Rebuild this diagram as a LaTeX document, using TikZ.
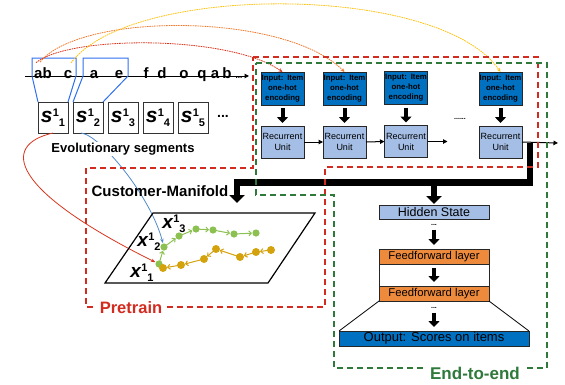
\documentclass[tikz,border=0pt]{standalone}
\usepackage{fontspec}
\setmainfont{Liberation Sans}
\usetikzlibrary{arrows.meta,calc}

\definecolor{inblue}{HTML}{0070C0}
\definecolor{rublue}{HTML}{A4BEE6}
\definecolor{ffor}{HTML}{EE8A3C}
\definecolor{segblue}{HTML}{2E6FF0}
\definecolor{lnblue}{HTML}{4F8AC9}
\definecolor{prered}{HTML}{D22B1F}
\definecolor{eegreen}{HTML}{2F7A3B}
\definecolor{curvered}{HTML}{D8361E}
\definecolor{curveor}{HTML}{F07A2E}
\definecolor{curveyl}{HTML}{FFC20E}
\definecolor{trgreen}{HTML}{8CC152}
\definecolor{tryel}{HTML}{D4A20C}

\newcommand{\fsz}[2]{\fontsize{#1}{#2}\selectfont}
% symbol with a superscript followed by a subscript
\newcommand{\seglab}[4]{{\fsz{#4}{#4}\bfseries\itshape #1}\kern0.3pt\raisebox{6pt}{\fsz{11}{11}\bfseries #2}\raisebox{-4pt}{\fsz{11}{11}\bfseries #3}}

\begin{document}
\begin{tikzpicture}[x=1pt,y=-1pt,
  every node/.style={inner sep=0pt, outer sep=0pt},
  seq/.style={font=\fsz{15}{15}\bfseries, anchor=base},
  segbox/.style={draw=black!80, line width=1pt, minimum width=30pt, minimum height=31pt},
  inbox/.style={draw=black!85, line width=0.8pt, fill=inblue, minimum width=43pt, text width=43pt,
    minimum height=33pt, align=center, font=\fsz{7.8}{10}\bfseries},
  rubox/.style={draw=black!85, line width=0.8pt, fill=rublue, minimum width=43pt, text width=43pt,
    minimum height=32pt, align=center, font=\fsz{9}{11}},
  hsbox/.style={draw=black!85, line width=0.8pt, fill=rublue, minimum width=110pt, minimum height=14pt, font=\fsz{12.5}{14}},
  ffbox/.style={draw=black!85, line width=0.8pt, fill=ffor, minimum width=110pt, minimum height=15pt, font=\fsz{11.3}{13}},
  outbox/.style={draw=black!85, line width=0.8pt, fill=inblue, minimum width=190pt, minimum height=15pt, font=\fsz{13}{15}},
  smalldots/.style={font=\fsz{7}{7}\bfseries},
  flow/.style={line width=1pt, -{Triangle[length=4.5pt,width=4.5pt]}},
  blockarrow/.style={line width=4pt, -{Triangle[length=6pt,width=11pt]}},
  bigbar/.style={line width=6.5pt, line join=miter, -{Triangle[length=8pt,width=15pt]}},
  topcurve/.style={line width=0.8pt, dash pattern=on 1.6pt off 0.8pt, -{Stealth[length=4pt,width=3.5pt]}},
  lowcurve/.style={line width=0.8pt, shorten >=4pt, -{Stealth[length=4.5pt,width=3.5pt]}},
  traj/.style={line width=1pt, shorten >=4pt, shorten <=3pt, -{Straight Barb[length=2.5pt,width=5pt]}},
  pbox/.style={draw=prered, line width=2pt, dash pattern=on 6pt off 4pt},
  ebox/.style={draw=eegreen, line width=2pt, dash pattern=on 6pt off 4pt}
]
\useasboundingbox (0,0) rectangle (565,384);

% ---- item sequence ----
\coordinate (seqL) at (25,76);
\coordinate (seqR) at (249,76);
\draw[flow] (seqL) -- (seqR);
\node[seq] (ab) at (43,78) {ab};
\node[seq] (c1) at (68,78) {c};
\node[seq] (a1) at (94,78) {a};
\node[seq] (e1) at (119,78) {e};
\node[seq] (f1) at (146,78) {f};
\node[seq] (d1) at (162,78) {d};
\node[seq] (o1) at (184,78) {o};
\node[seq] (q1) at (202,78) {q};
\node[seq] (a2) at (215,78) {a};
\node[seq] (b2) at (227,78) {b};
\node[seq, font=\fsz{8}{8}\bfseries] (sd) at (239,78) {...};

% ---- evolutionary segments ----
\node[segbox] (s1) at (53,117.5) {\seglab{s}{1}{1}{21}};
\node[segbox] (s2) at (88,117.5) {\seglab{s}{1}{2}{21}};
\node[segbox] (s3) at (123,117.5) {\seglab{s}{1}{3}{21}};
\node[segbox] (s4) at (158,117.5) {\seglab{s}{1}{4}{21}};
\node[segbox] (s5) at (193,117.5) {\seglab{s}{1}{5}{21}};
\node[font=\fsz{14}{14}\bfseries] (s6) at (223,116) {...};

\draw[segblue, line width=1pt] (s1.north west) -- (32,76) -- (32,58) -- (76,58) -- (76,76) -- (s1.north east);
\draw[segblue, line width=1pt] (s2.north west) -- (83,76) -- (83,58) -- (128,58) -- (128,76) -- (s2.north east);

% ---- recurrent encoder ----
\node[inbox] (in1) at (282.5,88.5) {Input: Item\\one-hot\\encoding};
\node[inbox] (in2) at (344.5,88.5) {Input: Item\\one-hot\\encoding};
\node[inbox] (in3) at (406,88) {Input: Item\\one-hot\\encoding};
\node[inbox] (in4) at (500.5,88.5) {Input: Item\\one-hot\\encoding};
\node[rubox] (ru1) at (282.5,142) {Recurrent\\Unit};
\node[rubox] (ru2) at (344.5,142) {Recurrent\\Unit};
\node[rubox] (ru3) at (406,141.5) {Recurrent\\Unit};
\node[rubox] (ru4) at (500.5,142) {Recurrent\\Unit};
\node[smalldots] (rd) at (460,119) {......};

\foreach \i in {1,2,3,4}{
  \draw[blockarrow] ($(in\i.south)+(0,3)$) -- ($(ru\i.north)+(0,-3)$);
}
\coordinate (r3out) at ($(ru3.east)+(20,0)$);
\coordinate (r4out) at (558,143);
\draw[flow] (ru1.east) -- (ru2.west);
\draw[flow] (ru2.east) -- (ru3.west);
\draw[flow] (ru3.east) -- (r3out);
\draw[flow] (ru4.east) -- (r4out);

% ---- sequence to input curves ----
\draw[topcurve, draw=curvered] ($(ab.north)+(-7,-4.5)$) .. controls (70,35) and (230,35) .. (in1.north);
\draw[topcurve, draw=curveor] ($(ab.north)+(-3,-5)$) .. controls (80,12) and (285,12) .. (in2.north);
\draw[topcurve, draw=curveyl] ($(c1.north)+(3,-7)$) .. controls (130,-17) and (440,-17) .. (in4.north);

% ---- customer manifold ----
\coordinate (g1) at (159,264); \coordinate (g2) at (164,247); \coordinate (g3) at (179,236);
\coordinate (g4) at (196,229); \coordinate (g5) at (213,230); \coordinate (g6) at (234,234);
\coordinate (g7) at (256,233);
\coordinate (y1) at (271,250); \coordinate (y2) at (256,252); \coordinate (y3) at (240,257);
\coordinate (y4) at (216,249); \coordinate (y5) at (204,259); \coordinate (y6) at (181,265);
\coordinate (y7) at (163,268);

\draw[curvered, lowcurve] (s1.south) .. controls (0,145) and (10,190) .. (g1);
\draw[lnblue, lowcurve] ($(s2.south)+(-7,0)$) .. controls (100,135) and (150,195) .. (g2);

\node[font=\fsz{13}{13}\bfseries, anchor=base, fill=white, inner sep=1pt] (evo) at (123,152.5) {Evolutionary segments};
\node[font=\fsz{15}{15}\bfseries, anchor=base] (cm) at (160,196) {Customer-Manifold};

\draw[line width=1.2pt] (105,283) -- (268,283) -- (315,213) -- (153,213) -- cycle;

\node (x3) at (174,224) {\seglab{x}{1}{3}{19}};
\node (x2) at (149,242) {\seglab{x}{1}{2}{19}};
\node (x1) at (142,273) {\seglab{x}{1}{1}{19}};

\foreach \a/\b in {g1/g2,g2/g3,g3/g4,g4/g5,g5/g6,g6/g7}{
  \draw[traj, trgreen] (\a) -- (\b);
}
\foreach \p in {g1,g2,g3,g4,g5,g6,g7}{
  \fill[trgreen] (\p) circle (3.6);
}
\foreach \a/\b in {y1/y2,y2/y3,y3/y4,y4/y5,y5/y6,y6/y7}{
  \draw[traj, tryel] (\a) -- (\b);
}
\foreach \p in {y1,y2,y3,y4,y5,y6,y7}{
  \fill[tryel] (\p) circle (4);
}

% ---- decoder stack ----
\node[hsbox] (hs) at (434,212) {Hidden State};
\node[smalldots] (hd) at (434,225) {...};
\node[ffbox] (ff1) at (434,256.5) {Feedforward layer};
\node[ffbox] (ff2) at (434,293.5) {Feedforward layer};
\node[smalldots] (od) at (434,308) {...};
\node[outbox] (out) at (434,338.5) {Output: Scores on items};
\draw[black!85, line width=0.8pt] (ff1.south west) rectangle (ff2.north east);
\draw[line width=0.8pt] (ff2.south west) -- (out.north west);
\draw[line width=0.8pt] (ff2.south east) -- (out.north east);
\draw[blockarrow] ($(hd.south)+(0,4)$) -- ($(ff1.north)+(0,-4)$);
\draw[blockarrow] ($(ff1.south)+(0,4)$) -- ($(ff2.north)+(0,-4)$);
\draw[blockarrow] ($(od.south)+(0,4)$) -- ($(out.north)+(0,-4)$);

% ---- hidden state fan-out ----
\coordinate (tap) at ($(ru4.east)+(8,1)$);
\coordinate (bend) at ($(tap)+(0,39.5)$);
\coordinate (cmtop) at (237,182.5);
\coordinate (cmend) at (237,203);
\draw[bigbar] (tap) -- (bend) -- (cmtop) -- (cmend);
\draw[bigbar] (hs.north |- cmtop) -- ($(hs.north)+(0,-1)$);

% ---- training scopes ----
\draw[pbox] (253,57) -- (538,57) -- (538,167) -- (325,167) -- (325,307) -- (86,307) -- (86,168) -- (253,168) -- cycle;
\draw[ebox] (256,63) -- (547,63) -- (547,368) -- (334,368) -- (334,195) -- (256,195) -- cycle;

\node[font=\fsz{16.5}{16.5}\bfseries, text=prered, fill=white, inner sep=3pt, anchor=base] (pre) at (131,313) {Pretrain};
\node[font=\fsz{17}{17}\bfseries, text=eegreen, fill=white, inner sep=3pt, anchor=base] (e2e) at (475,379) {End-to-end};

\end{tikzpicture}
\end{document}
